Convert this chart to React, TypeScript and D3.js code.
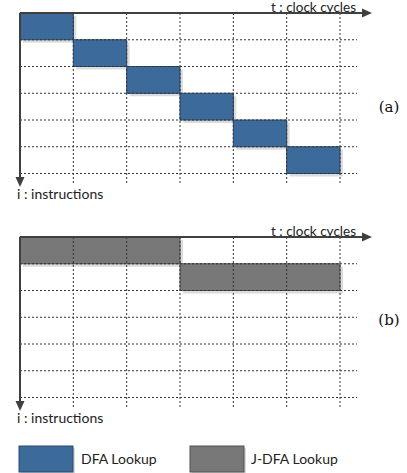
import * as d3 from 'd3';

const cycles = [0, 1, 2, 3, 4, 5, 6];
const rows = [0, 1, 2, 3, 4, 5, 6];

// panel (a): DFA lookup, one cycle per instruction
const dfaStart = [0, 1, 2, 3, 4, 5];
const dfaRow = [0, 1, 2, 3, 4, 5];
const dfaLen = [1, 1, 1, 1, 1, 1];

// panel (b): J-DFA lookup, three cycles each
const jdfaStart = [0, 3];
const jdfaRow = [0, 1];
const jdfaLen = [3, 3];

const legendLabels = ['DFA Lookup', 'J-DFA Lookup'];
const panelLabels = ['(a)', '(b)'];

const BLUE = '#3c6a9b';
const BLUE_EDGE = '#2b4b70';
const GRAY = '#787878';
const GRAY_EDGE = '#505050';
const AXIS = '#404040';
const FONT = 'Lato, "Open Sans", sans-serif';

function Panel({ top, starts, rowsIdx, lens, fill, edge, label, labelY }: any) {
  const x = d3.scaleLinear().domain([0, 6]).range([20, 340]);
  const y = d3.scaleLinear().domain([0, 6]).range([top, top + 160.5]);
  const gridRight = 357;
  const axisBottom = top + 172;
  const bars = starts.map((s: number, i: number) => ({ s, r: rowsIdx[i], l: lens[i] }));
  return (
    <g>
      {bars.map((b: any, i: number) => (
        <rect key={'sh' + i} x={x(b.s) + 3} y={y(b.r) + 3} width={x(b.s + b.l) - x(b.s)} height={y(b.r + 1) - y(b.r)} fill="#dcdcdc" />
      ))}
      {bars.map((b: any, i: number) => (
        <rect key={'b' + i} x={x(b.s)} y={y(b.r)} width={x(b.s + b.l) - x(b.s)} height={y(b.r + 1) - y(b.r)} fill={fill} stroke={edge} strokeWidth={1} />
      ))}
      {cycles.slice(1).map(c => (
        <line key={'v' + c} x1={x(c)} x2={x(c)} y1={top} y2={axisBottom} stroke="#333" strokeWidth={1} strokeDasharray="2,2" />
      ))}
      {rows.slice(1).map(r => (
        <line key={'h' + r} x1={20} x2={gridRight} y1={y(r)} y2={y(r)} stroke="#333" strokeWidth={1} strokeDasharray="2,2" />
      ))}
      <line x1={20} x2={364} y1={top} y2={top} stroke={AXIS} strokeWidth={2} />
      <path d={`M362,${top - 4.5} L372,${top} L362,${top + 4.5} Z`} fill={AXIS} />
      <line x1={20} x2={20} y1={top} y2={axisBottom - 6} stroke={AXIS} strokeWidth={2} />
      <path d={`M15.5,${axisBottom - 8} L20,${axisBottom + 2} L24.5,${axisBottom - 8} Z`} fill={AXIS} />
      <text x={356} y={top - 1} textAnchor="end" fontFamily={FONT} fontSize={13.5} fill="#222">t : clock cycles</text>
      <text x={17} y={axisBottom + 14} fontFamily={FONT} fontSize={14} fill="#222">i : instructions</text>
      <text x={389} y={labelY} textAnchor="middle" fontFamily='"DejaVu Serif", serif' fontSize={15} fill="#111">{label}</text>
    </g>
  );
}

export default function App() {
  return (
    <svg width={407} height={473} style={{ position: 'absolute', left: 0, top: 0, background: '#fff' }}>
      <rect width={407} height={473} fill="#fff" />
      <Panel top={13} starts={dfaStart} rowsIdx={dfaRow} lens={dfaLen} fill={BLUE} edge={BLUE_EDGE} label={panelLabels[0]} labelY={112} />
      <Panel top={237} starts={jdfaStart} rowsIdx={jdfaRow} lens={jdfaLen} fill={GRAY} edge={GRAY_EDGE} label={panelLabels[1]} labelY={325} />
      <rect x={21} y={448} width={54} height={26} fill="#dcdcdc" />
      <rect x={19} y={446} width={54} height={26} fill={BLUE} stroke={BLUE_EDGE} />
      <text x={81} y={464} fontFamily={FONT} fontSize={14} fill="#222">{legendLabels[0]}</text>
      <rect x={192} y={448} width={54} height={26} fill="#dcdcdc" />
      <rect x={190} y={446} width={54} height={26} fill={GRAY} stroke={GRAY_EDGE} />
      <text x={251} y={464} fontFamily={FONT} fontSize={14} fill="#222">{legendLabels[1]}</text>
    </svg>
  );
}
